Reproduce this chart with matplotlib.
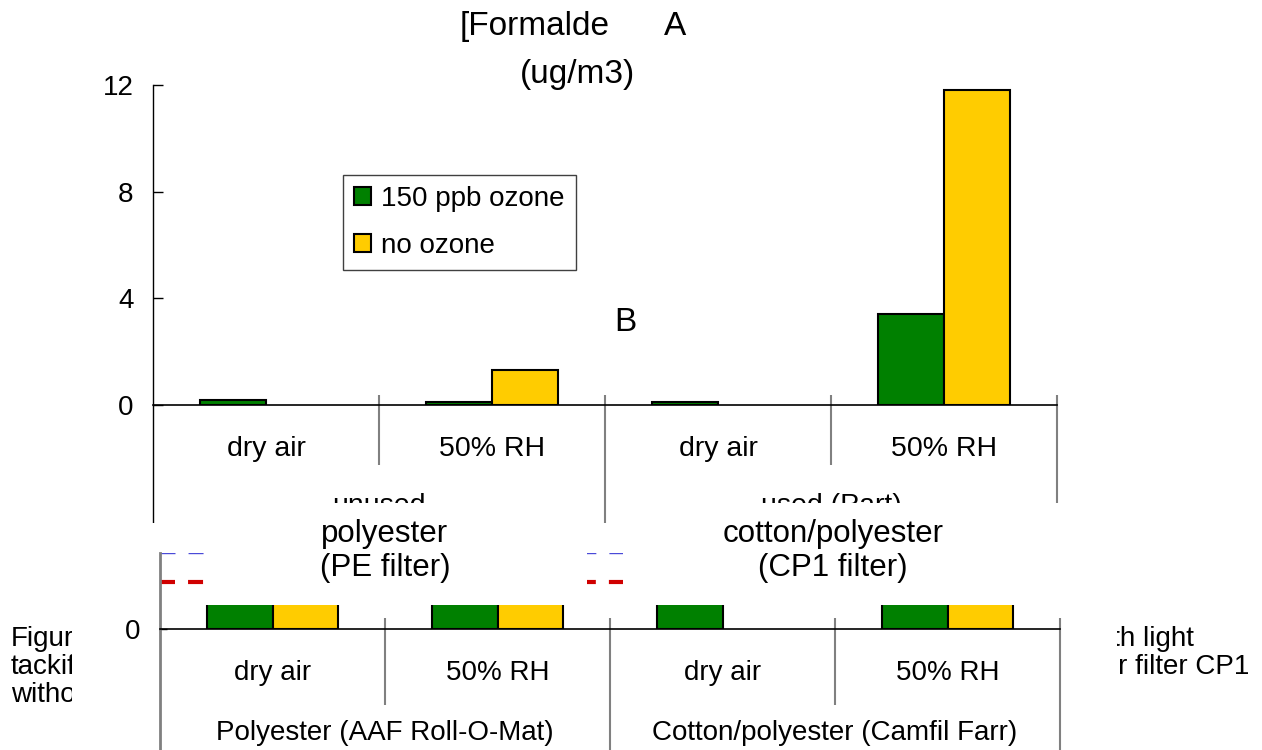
import numpy as np
import matplotlib
matplotlib.use("Agg")
import matplotlib.pyplot as plt
from matplotlib.patches import Rectangle

plt.rcParams['font.family'] = ['Liberation Sans', 'DejaVu Sans']
plt.rcParams['lines.scale_dashes'] = False

# ---------------- data ----------------
conditions = ["dry air", "50% RH", "dry air", "50% RH"]
groups_top = ["unused", "used (Part)"]
groups_bottom = ["Polyester (AAF Roll-O-Mat)", "Cotton/polyester (Camfil Farr)"]
series_names = ["150 ppb ozone", "no ozone"]
top_ozone = [0.2, 0.1, 0.1, 3.4]
top_no_ozone = [0.0, 1.3, 0.0, 11.8]
top_yticks = [0, 4, 8, 12]
bottom_ozone = [2.0, 2.1, 1.8, 2.3]
bottom_no_ozone = [2.0, 2.2, 0.0, 2.1]
bottom_yticks = [0]
bottom_ref_blue = 4.0
bottom_ref_red = 2.47
box_titles = ["polyester\n(PE filter)", "cotton/polyester\n(CP1 filter)"]
caption_left = ["Figure", "tackifier", "without"]
caption_right = ["with light", "polyester filter CP1"]

GREEN = "#008000"
YELLOW = "#FFCC00"
GRAY = "#808080"

W, H = 1262, 750
fig = plt.figure(figsize=(W / 100, H / 100), dpi=100)
fig.patch.set_facecolor("white")


def fx(px):
    return px / W


def fy(py):
    return 1 - py / H


def edge_lw(vals):
    return [1.5 if v > 0 else 0 for v in vals]


n = len(conditions)
x = np.arange(n) + 0.5
bw = 0.29

# ---------------- top chart ----------------
t_left, t_right, t_bot, t_top = 153, 1057, 405, 85
ax1 = fig.add_axes([fx(t_left), fy(t_bot), (t_right - t_left) / W, (t_bot - t_top) / H])
ax1.set_zorder(1)
th = t_bot - t_top
ax1.bar(x - bw / 2, top_ozone, bw, color=GREEN, edgecolor="black", linewidth=edge_lw(top_ozone),
        label=series_names[0], zorder=3)
ax1.bar(x + bw / 2, top_no_ozone, bw, color=YELLOW, edgecolor="black",
        linewidth=edge_lw(top_no_ozone), label=series_names[1], zorder=3)
ax1.set_xlim(0, n)
ax1.set_ylim(0, 12)
ax1.set_yticks(top_yticks)
ax1.tick_params(axis="y", direction="in", length=7, width=1, labelsize=20, pad=14)
ax1.set_xticks([])
for s in ["top", "right"]:
    ax1.spines[s].set_visible(False)
ax1.spines["left"].set_linewidth(1)
ax1.spines["bottom"].set_linewidth(1.2)
tr1 = ax1.get_xaxis_transform()
seps = np.arange(0, n + 1)
ax1.vlines(seps[[0]], -(523 - t_bot) / th, 0, transform=tr1, colors="black", lw=1, clip_on=False)
ax1.vlines(seps[2::2], -(523 - t_bot) / th, 10 / th, transform=tr1, colors=GRAY, lw=1.5, clip_on=False)
ax1.vlines(seps[1::2], -(465 - t_bot) / th, 10 / th, transform=tr1, colors=GRAY, lw=1.5, clip_on=False)
for xi, lab in zip(x, conditions):
    ax1.text(xi, -51 / th, lab, transform=tr1, ha="center", va="baseline", fontsize=20.5)
for gi, lab in enumerate(groups_top):
    ax1.text(2 * gi + 1, -108 / th, lab, transform=tr1, ha="center", va="baseline", fontsize=20.5)

leg = ax1.legend(loc="upper left", bbox_to_anchor=(fx(343), fy(175)),
                 bbox_transform=fig.transFigure, borderaxespad=0, fontsize=20,
                 handlelength=0.62, handleheight=0.62, handletextpad=0.35,
                 labelspacing=0.75, borderpad=0.4, fancybox=False, framealpha=1,
                 edgecolor="#404040")
leg.get_frame().set_linewidth(1)
for h in leg.legend_handles:
    h.set_linewidth(1.5)

# ---------------- mask (overlaid picture background) ----------------
fig.add_artist(Rectangle((fx(72), 0), (1117 - 72) / W, fy(523), transform=fig.transFigure,
                         facecolor="white", edgecolor="none", zorder=2))

# caption text behind the overlay
for i, t in enumerate(caption_left):
    fig.text(fx(11), fy(639 + 28 * i), t, ha="left", va="center", fontsize=20, zorder=1.5)
fig.text(fx(1194), fy(639), caption_right[0], ha="right", va="center", fontsize=20, zorder=1.5)
fig.text(fx(1249), fy(667), caption_right[1], ha="right", va="center", fontsize=20, zorder=1.5)

# ---------------- bottom chart ----------------
b_left, b_right, b_bot, b_top = 160, 1060, 629, 553
bh = b_bot - b_top
ax2 = fig.add_axes([fx(b_left), fy(b_bot), (b_right - b_left) / W, bh / H])
ax2.set_zorder(3)
ax2.patch.set_visible(False)
ax2.bar(x - bw / 2, bottom_ozone, bw, color=GREEN, edgecolor="black",
        linewidth=edge_lw(bottom_ozone), zorder=3)
ax2.bar(x + bw / 2, bottom_no_ozone, bw, color=YELLOW, edgecolor="black",
        linewidth=edge_lw(bottom_no_ozone), zorder=3)
ax2.axhline(bottom_ref_blue, color="#4a4ad8", lw=1, linestyle=(0, (10.8, 9.4)), zorder=2)
ax2.axhline(bottom_ref_red, color="#d00000", lw=3, linestyle=(0, (10.8, 9.4)), zorder=2)
ax2.set_xlim(0, n)
ax2.set_ylim(0, 4)
ax2.set_yticks(bottom_yticks)
ax2.tick_params(axis="y", direction="in", length=5, width=1, labelsize=20, pad=14)
ax2.set_xticks([])
for s in ["top", "right"]:
    ax2.spines[s].set_visible(False)
ax2.spines["left"].set_color(GRAY)
ax2.spines["left"].set_linewidth(2)
ax2.spines["bottom"].set_linewidth(1.2)
ax2.spines["bottom"].set_zorder(4)
tr2 = ax2.get_xaxis_transform()
ax2.vlines(seps[[0]], -(H - b_bot) / bh, 0, transform=tr2, colors=GRAY, lw=2, clip_on=False)
ax2.vlines(seps[2::2], -(H - b_bot) / bh, 11 / bh, transform=tr2, colors=GRAY, lw=1.5, clip_on=False)
ax2.vlines(seps[1::2], -(705 - b_bot) / bh, 11 / bh, transform=tr2, colors=GRAY, lw=1.5, clip_on=False)
for xi, lab in zip(x, conditions):
    ax2.text(xi, -51 / bh, lab, transform=tr2, ha="center", va="baseline", fontsize=20)
for gi, lab in enumerate(groups_bottom):
    ax2.text(2 * gi + 1, -111 / bh, lab, transform=tr2, ha="center", va="baseline", fontsize=20)

# white title boxes of the bottom picture
for (x0, x1) in [(205, 587), (623, 1060)]:
    fig.add_artist(Rectangle((fx(x0), fy(605)), (x1 - x0) / W, (605 - 503) / H,
                             transform=fig.transFigure, facecolor="white",
                             edgecolor="none", zorder=4))
fig.text(fx(385), fy(551), box_titles[0], ha="center", va="center", fontsize=22.5,
         linespacing=1.2, zorder=5)
fig.text(fx(833), fy(551), box_titles[1], ha="center", va="center", fontsize=22.5,
         linespacing=1.2, zorder=5)

# ---------------- titles / letters ----------------
fig.text(fx(535), fy(35), "[Formalde", ha="center", va="baseline", fontsize=24, zorder=6)
fig.text(fx(675), fy(35), "A", ha="center", va="baseline", fontsize=24, zorder=6)
fig.text(fx(578), fy(83), "(ug/m3)", ha="center", va="baseline", fontsize=24, zorder=6)
fig.text(fx(625), fy(331), "B", ha="center", va="baseline", fontsize=24, zorder=6)

fig.savefig("out.png", dpi=100)
